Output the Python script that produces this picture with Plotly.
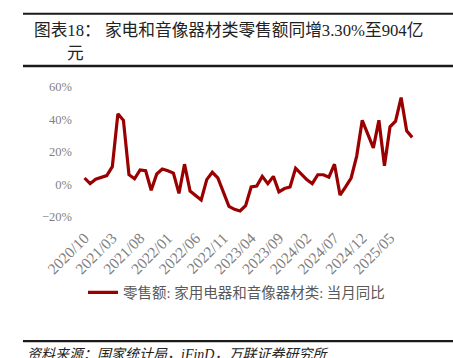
import pandas as pd
import plotly.graph_objects as go

# ---- data ----
months = [d.strftime("%Y/%m") for d in pd.date_range("2020-10-01", periods=60, freq="MS")]
yoy = [4.0, 0.5, 3.2, 4.3, 5.5, 11.0, 43.5, 39.5, 6.0, 3.5,
       9.0, 8.5, -3.5, 6.5, 9.5, 8.5, 7.0, -5.5, 12.5, -4.0,
       -7.0, -9.5, 3.0, 7.5, 4.0, -5.0, -13.5, -15.3, -16.3, -13.0,
       -1.5, -1.0, 5.0, 0.5, 5.0, -4.5, -2.5, -1.5, 10.0, 6.5,
       3.0, 0.5, 6.0, 6.0, 4.5, 12.5, -6.5, -1.5, 4.0, 17.5,
       39.5, 31.0, 22.5, 39.5, 11.5, 35.5, 39.0, 53.5, 33.0, 29.0]
tick_labels = ["2020/10", "2021/03", "2021/08", "2022/01", "2022/06", "2022/11",
               "2023/04", "2023/09", "2024/02", "2024/07", "2024/12", "2025/05"]
y_ticks = [-20, 0, 20, 40, 60]
y_tick_text = ["\u221220%", "0%", "20%", "40%", "60%"]
series_name = "零售额: 家用电器和音像器材类: 当月同比"
title_line1 = "图表18：\u00a0家电和音像器材类零售额同增3.30%至904亿"
title_line2 = "元"
source_text = "资料来源：国家统计局，iFinD，万联证券研究所"

# ---- layout geometry (pixels) ----
FW, FH = 453, 358
L, R, T, B = 83, 414.8, 87, 217.3
W, H = R - L, B - T

def px_x(px):
    return (px - L) / W

def px_y(py):
    return (B - py) / H

x_idx = list(range(len(months)))
label_pos = [months.index(t) for t in tick_labels]
mark_pos = [v - 0.5 for v in label_pos[1:]] + [len(months) - 0.5]
zero_frac = (0 - y_ticks[0]) / (y_ticks[-1] - y_ticks[0])

serif_cjk = "Liberation Serif, Noto Sans CJK SC, serif"

fig = go.Figure()
fig.add_trace(go.Scatter(
    x=x_idx, y=yoy, mode="lines", name=series_name,
    line=dict(color="#9b0000", width=3.2),
    hoverinfo="skip",
))

fig.update_layout(
    width=FW, height=FH,
    margin=dict(l=L, r=FW - R, t=T, b=FH - B, pad=0),
    paper_bgcolor="white", plot_bgcolor="white",
    showlegend=True,
    legend=dict(orientation="h", x=px_x(83), xanchor="left", y=px_y(293), yanchor="middle",
                font=dict(family=serif_cjk, size=14.5, color="#595959"),
                bgcolor="rgba(0,0,0,0)", itemwidth=30),
    xaxis=dict(range=[-0.28, len(months) - 0.5], tickmode="array", tickvals=label_pos,
               ticktext=tick_labels, tickangle=-45, showgrid=False, zeroline=False,
               showline=False, ticks="", ticklabelstandoff=8,
               tickfont=dict(family=serif_cjk, size=15.5, color="#7f7f7f")),
    xaxis2=dict(range=[-0.28, len(months) - 0.5], overlaying="x", anchor="free",
                position=zero_frac,
                tickmode="array", tickvals=mark_pos, ticks="outside", ticklen=4,
                tickcolor="#d9d9d9", tickwidth=1.5, showticklabels=False, showgrid=False,
                zeroline=False, showline=True, linecolor="#d9d9d9", linewidth=1.5,
                layer="below traces"),
    yaxis=dict(range=[y_ticks[0], y_ticks[-1]], tickmode="array", tickvals=y_ticks,
               ticktext=y_tick_text, showgrid=False, zeroline=False, showline=False, ticks="",
               ticklabelstandoff=10,
               tickfont=dict(family=serif_cjk, size=12.5, color="#7f7f7f")),
)

# decorative frame lines (title and source rules)
for ypx, lw in [(13.5, 2), (66, 2.5), (341.7, 2.2)]:
    fig.add_shape(type="line", xref="paper", yref="paper",
                  x0=px_x(23), x1=px_x(FW + 5), y0=px_y(ypx), y1=px_y(ypx),
                  line=dict(color="#1a1a1a", width=lw))

fig.add_annotation(text=title_line1, xref="paper", yref="paper", x=px_x(32), y=px_y(30),
                   xanchor="left", yanchor="middle", showarrow=False,
                   font=dict(family=serif_cjk, size=16.7, color="#222222"))
fig.add_annotation(text=title_line2, xref="paper", yref="paper", x=px_x(65), y=px_y(53),
                   xanchor="left", yanchor="middle", showarrow=False,
                   font=dict(family=serif_cjk, size=16.7, color="#222222"))
fig.add_annotation(text=source_text, xref="paper", yref="paper", x=px_x(25), y=px_y(346),
                   xanchor="left", yanchor="top", showarrow=False,
                   font=dict(family=serif_cjk, size=14, color="#222222", style="italic"))

fig.write_html("out.html", config={"displayModeBar": False},
               post_script="document.body.style.margin='0';")
